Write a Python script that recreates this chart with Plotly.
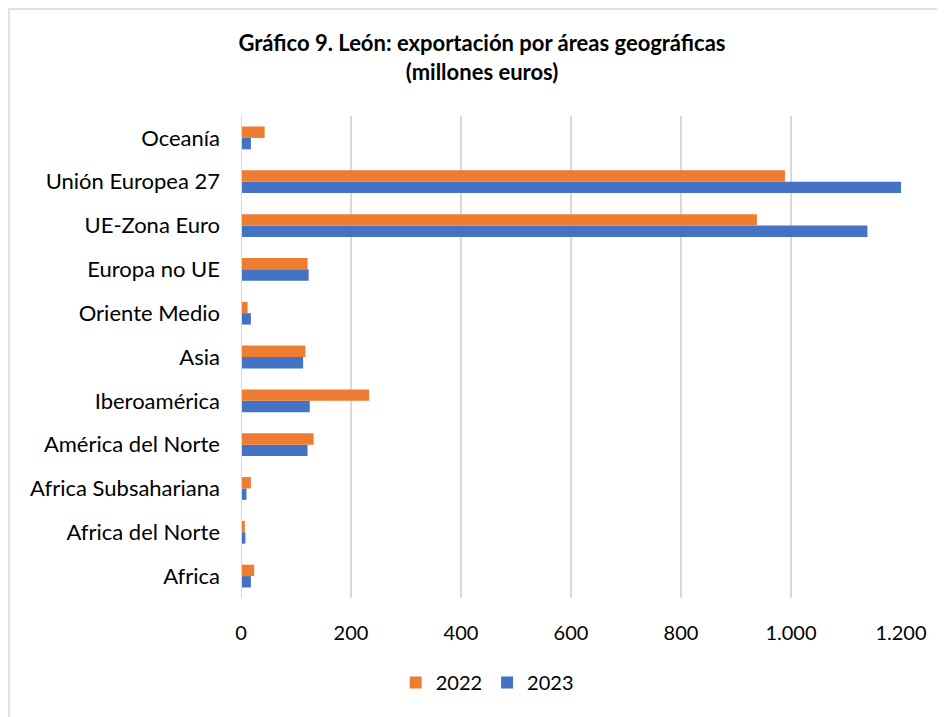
import plotly.graph_objects as go

# categories listed bottom to top
areas = ["Africa", "Africa del Norte", "Africa Subsahariana", "América del Norte",
         "Iberoamérica", "Asia", "Oriente Medio", "Europa no UE",
         "UE-Zona Euro", "Unión Europea 27", "Oceanía"]
exp_2022 = [24, 7, 18, 132, 233, 117, 12, 121, 938, 989, 43]
exp_2023 = [18, 8, 10, 121, 125, 113, 18, 123, 1139, 1200, 18]

tick_vals = [0, 200, 400, 600, 800, 1000, 1200]
tick_text = ["0", "200", "400", "600", "800", "1.000", "1.200"]

FONT = "Lato, Calibri, Carlito, sans-serif"

fig = go.Figure()
# 2023 first so it sits below 2022 in each group
fig.add_trace(go.Bar(name="2023", y=areas, x=exp_2023, orientation="h",
                     marker=dict(color="#4472C4", line=dict(width=0))))
fig.add_trace(go.Bar(name="2022", y=areas, x=exp_2022, orientation="h",
                     marker=dict(color="#ED7D31", line=dict(width=0))))

fig.update_layout(
    width=945, height=717,
    barmode="group", bargap=0.48, bargroupgap=0,
    plot_bgcolor="white", paper_bgcolor="white",
    font=dict(family=FONT, size=22, color="#000000"),
    title=dict(text="<b>Gráfico 9. León: exportación por áreas geográficas<br>(millones euros)</b>",
               x=474 / 945, xanchor="center", y=0.94, yanchor="top",
               font=dict(family=FONT, size=22, color="#000000")),
    margin=dict(l=233, r=52, t=108, b=127),
    legend=dict(orientation="h", x=0.373, xanchor="center", y=-0.135, yanchor="top",
                traceorder="reversed", itemwidth=30, font=dict(size=20)),
    xaxis=dict(range=[0, 1200], tickvals=tick_vals, ticktext=tick_text,
               showgrid=True, gridcolor="#D9D9D9", gridwidth=2,
               zeroline=False, showline=False, ticks="", ticklen=0,
               ticklabelstandoff=21, tickfont=dict(size=20)),
    yaxis=dict(showgrid=False, zeroline=False, showline=False, ticks="",
               ticklabelstandoff=20, automargin=False),
    shapes=[
        # zero line
        dict(type="line", xref="x", yref="paper", x0=0, x1=0, y0=0, y1=1,
             line=dict(color="#D9D9D9", width=2)),
        # chart border (cropped on right and bottom)
        dict(type="rect", xref="paper", yref="paper", x0=-0.3515, x1=1.2,
             y0=-0.5, y1=1.222, line=dict(color="#D9D9D9", width=1.5),
             layer="below"),
    ],
)

fig.write_html("out.html")
